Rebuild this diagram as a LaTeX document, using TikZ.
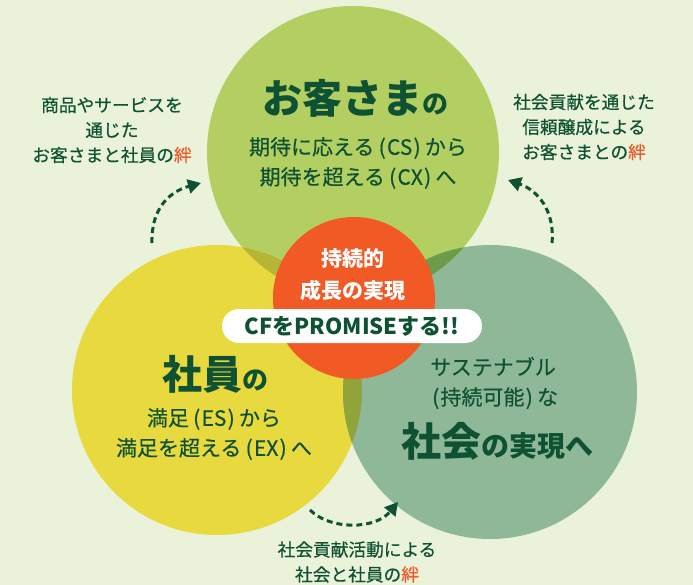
\documentclass[tikz,border=0pt]{standalone}
\usepackage{fontspec}
\setmainfont{Noto Sans CJK JP}[UprightFeatures={FakeBold=0.5}]
\usetikzlibrary{arrows.meta}
\definecolor{bg}{HTML}{EAF2D9}
\definecolor{ctop}{HTML}{B3CF61}
\definecolor{cleft}{HTML}{E8D93F}
\definecolor{cright}{HTML}{8FB898}
\definecolor{otl}{HTML}{B6B535}
\definecolor{otr}{HTML}{6C9C4A}
\definecolor{olr}{HTML}{91A43A}
\definecolor{corange}{HTML}{F15A24}
\definecolor{dkgreen}{HTML}{0E5233}
\definecolor{kizuna}{HTML}{F05A28}
\newcommand{\fs}[1]{\fontsize{#1}{#1}\selectfont}
\newcommand{\kz}{\textcolor{kizuna}{絆}}
\newcommand{\lp}{\hspace{0.2em}(\hspace{0.06em}}
\newcommand{\rp}{\hspace{0.06em})\hspace{0.2em}}
\begin{document}
\begin{tikzpicture}[x=1pt,y=-1pt,
  lbl/.style={text=dkgreen,align=center,inner sep=0pt},
  side/.style={lbl,font=\fs{17.7},execute at begin node=\setlength{\baselineskip}{25pt}},
  sub/.style={lbl,font=\fs{21},execute at begin node=\setlength{\baselineskip}{30pt}},
  link/.style={dkgreen,line width=3pt,dash pattern=on 6pt off 4pt,-{Triangle[length=13pt,width=14pt]}}]
\useasboundingbox[fill=bg] (0,0) rectangle (693,585);
% circle centres
\coordinate (T) at (353,152);
\coordinate (L) at (217,390);
\coordinate (R) at (490,392);
\coordinate (O) at (354,298);
\fill[ctop] (T) circle (146);
\fill[cleft] (L) circle (145);
\fill[cright] (R) circle (147);
\begin{scope}\clip (T) circle (146); \fill[otl] (L) circle (145);\end{scope}
\begin{scope}\clip (T) circle (146); \fill[otr] (R) circle (147);\end{scope}
\begin{scope}\clip (L) circle (145); \fill[olr] (R) circle (147);\end{scope}
\fill[corange] (O) circle (81);
% orange texts
\node[lbl,text=white,font=\fs{21}\bfseries] (o1) at (353,259) {持続的};
\node[lbl,text=white,font=\fs{21}\bfseries] (o2) at (353,290) {成長の実現};
\node[fill=white,rounded corners=17pt,minimum width=260pt,minimum height=34pt,inner sep=0pt,
  text=dkgreen,font=\fs{22}\bfseries] (pill) at (352,326) {CFをPROMISEする!!};
% top circle
\node[lbl,font=\bfseries] (t1) at (355,98) {{\fs{40}お客さま}{\fs{26}の}};
\node[sub] (t2) at (358,163) {期待に応える\lp CS\rp から\\期待を超える\lp CX\rp へ};
% left circle
\node[lbl,font=\bfseries] (l1) at (215,374) {{\fs{40}社員}{\fs{26}の}};
\node[sub] (l2) at (214,434) {満足\lp ES\rp から\\満足を超える\lp EX\rp へ};
% right circle
\node[sub] (r1) at (493,383) {サステナブル\\\lp 持続可能\rp な};
\node[lbl,font=\bfseries] (r2) at (497,441) {{\fs{40}社会}{\fs{28}の実現へ}};
% outer texts
\node[side] (sl) at (112,130) {商品やサービスを\\通じた\\お客さまと社員の\kz};
\node[side] (sr) at (584,127) {社会貢献を通じた\\信頼醸成による\\お客さまとの\kz};
\node[side] (sb) at (357,562) {社会貢献活動による\\社会と社員の\kz};
% arrows
\coordinate (a1s) at (152,243); \coordinate (a1e) at (201,183);
\coordinate (a2s) at (552,243); \coordinate (a2e) at (508,180);
\coordinate (a3s) at (310,510); \coordinate (a3e) at (398,502);
\draw[link] (a1s) .. controls (151,210) and (168,192) .. (a1e);
\draw[link] (a2s) .. controls (555,210) and (537,190) .. (a2e);
\draw[link] (a3s) .. controls (330,530) and (375,530) .. (a3e);
\end{tikzpicture}
\end{document}
